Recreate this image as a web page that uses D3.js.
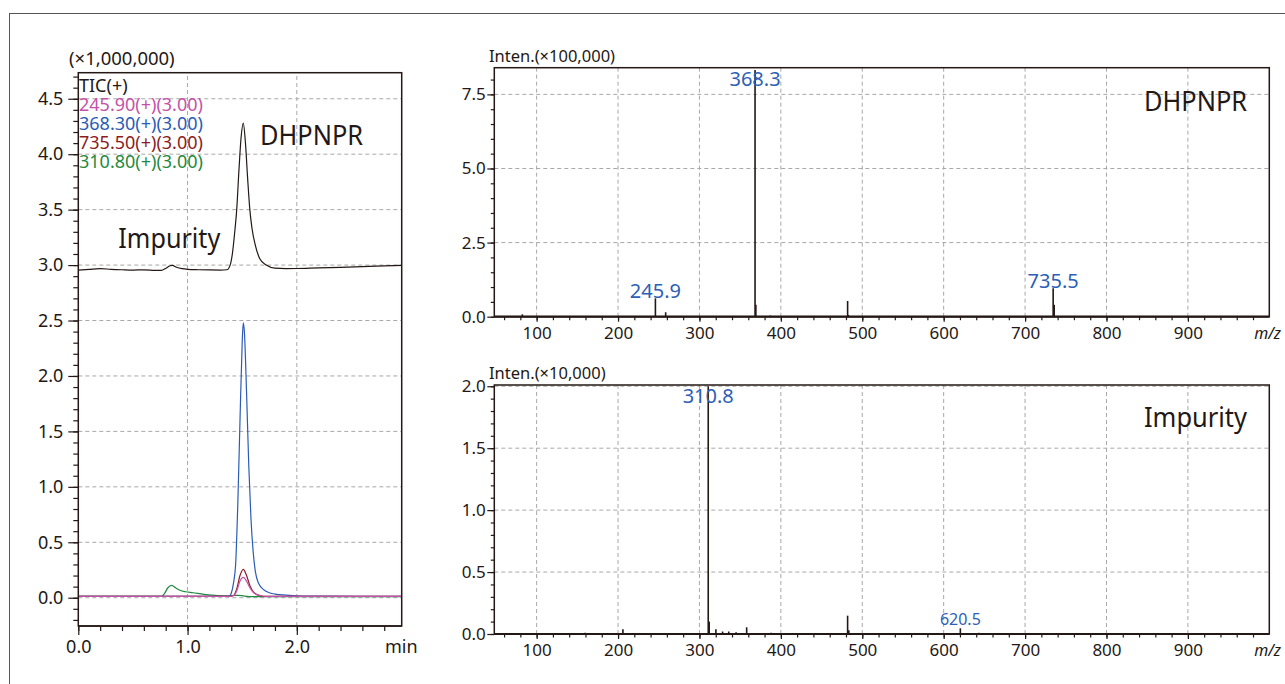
<!DOCTYPE html>
<html>
<head>
<meta charset="utf-8">
<script src="https://cdn.jsdelivr.net/npm/d3@7"></script>
<style>
  body { margin: 0; background: #fff; }
  text { font-family: "Noto Sans", sans-serif; fill: #231815; }
</style>
</head>
<body>
<svg id="chart" width="1285" height="684"></svg>
<script>
"use strict";

// chromatogram traces: [time (min), intensity (x1,000,000)]
const ticTrace = [
  [0, 2.955], [0.1, 2.962], [0.2, 2.968], [0.3, 2.962], [0.4, 2.958], [0.5, 2.955],
  [0.6, 2.957], [0.7, 2.953], [0.76, 2.952], [0.8, 2.97], [0.84, 2.994], [0.86, 2.998],
  [0.9, 2.98], [0.95, 2.968], [1.0, 2.962], [1.1, 2.958], [1.2, 2.956], [1.3, 2.955],
  [1.36, 2.958], [1.39, 3.0], [1.41, 3.1], [1.43, 3.28], [1.45, 3.5], [1.47, 3.85],
  [1.49, 4.15], [1.51, 4.28], [1.53, 4.1], [1.55, 3.78], [1.57, 3.5], [1.59, 3.33],
  [1.62, 3.18], [1.66, 3.06], [1.72, 3.0], [1.8, 2.972], [1.9, 2.968], [2.0, 2.969],
  [2.2, 2.975], [2.4, 2.98], [2.6, 2.986], [2.8, 2.993], [2.96, 2.998]
];
const ion368 = [
  [0, 0.012], [1.38, 0.012], [1.40, 0.04], [1.42, 0.13], [1.44, 0.3], [1.46, 0.85],
  [1.48, 1.6], [1.50, 2.3], [1.51, 2.48], [1.52, 2.4], [1.54, 1.85], [1.56, 1.2],
  [1.58, 0.72], [1.60, 0.42], [1.62, 0.24], [1.65, 0.13], [1.7, 0.07], [1.75, 0.045],
  [1.8, 0.033], [1.9, 0.024], [2.0, 0.018], [2.3, 0.014], [2.96, 0.012]
];
const ion735 = [
  [0, 0.012], [1.38, 0.012], [1.42, 0.02], [1.45, 0.08], [1.48, 0.2], [1.51, 0.256],
  [1.54, 0.2], [1.57, 0.11], [1.60, 0.055], [1.63, 0.03], [1.67, 0.018], [1.72, 0.013],
  [2.96, 0.012]
];
const ion245 = [
  [0, 0.012], [1.38, 0.012], [1.42, 0.018], [1.45, 0.06], [1.48, 0.15], [1.51, 0.184],
  [1.54, 0.15], [1.57, 0.09], [1.60, 0.05], [1.63, 0.03], [1.67, 0.018], [1.72, 0.013],
  [2.96, 0.012]
];
const ion310 = [
  [0, 0.012], [0.76, 0.012], [0.79, 0.04], [0.82, 0.09], [0.855, 0.112], [0.89, 0.09],
  [0.93, 0.068], [0.98, 0.054], [1.05, 0.045], [1.15, 0.03], [1.25, 0.022], [1.35, 0.018],
  [1.42, 0.02], [1.46, 0.022], [1.52, 0.015], [1.6, 0.01], [1.7, 0.01], [2.96, 0.01]
];

const legendLabels = ["TIC(+)", "245.90(+)(3.00)", "368.30(+)(3.00)", "735.50(+)(3.00)", "310.80(+)(3.00)"];
const legendColors = ["#231815", "#c452a8", "#2a5cb6", "#8c1c22", "#1f8a40"];

// mass spectra: m/z and intensity
const dhpMz  = [82.4, 245.9, 258.5, 368.3, 369.3, 387, 482, 483, 620, 734.5, 735.8];
const dhpInt = [0.08, 0.62, 0.15, 8.32, 0.4, 0.04, 0.53, 0.06, 0.02, 0.96, 0.4];   // x100,000
const impMz  = [120, 153, 159.6, 206, 310.8, 312, 320.2, 328.4, 336, 345, 358, 388, 482, 483.5, 573.6, 620.5, 643];
const impInt = [0.008, 0.008, 0.01, 0.038, 2.0, 0.1, 0.038, 0.02, 0.02, 0.015, 0.054, 0.01, 0.148, 0.03, 0.008, 0.046, 0.01]; // x10,000

const dhpLabels = [["368.3", 368.3, 8.32], ["245.9", 245.9, 0.62], ["735.5", 734.5, 0.96]];
const impLabels = [["310.8", 310.8, 2.0], ["620.5", 620.5, 0.046]];

const mzTicks = [100, 200, 300, 400, 500, 600, 700, 800, 900];

const svg = d3.select("#chart");
const ink = "#231815";

// outer frame
svg.append("rect")
  .attr("x", 9.5).attr("y", 13.5)
  .attr("width", 1300).attr("height", 700)
  .attr("fill", "none").attr("stroke", "#555").attr("stroke-width", 1);

function gridLines(g, x, y, xs, ys) {
  g.selectAll(null).data(xs).enter().append("line")
    .attr("x1", d => x(d)).attr("x2", d => x(d))
    .attr("y1", y.range()[0]).attr("y2", y.range()[1])
    .attr("stroke", "#a8a8a8").attr("stroke-dasharray", "4,3");
  g.selectAll(null).data(ys).enter().append("line")
    .attr("y1", d => y(d)).attr("y2", d => y(d))
    .attr("x1", x.range()[0]).attr("x2", x.range()[1])
    .attr("stroke", "#a8a8a8").attr("stroke-dasharray", "4,3");
}

function styleAxis(sel, size) {
  sel.select(".domain").remove();
  sel.selectAll(".tick line").attr("stroke", ink).attr("stroke-width", 1.2);
  sel.selectAll("text").style("font-size", size + "px").attr("fill", ink);
}

function frame(x, y, bw) {
  svg.append("rect")
    .attr("x", x.range()[0]).attr("y", y.range()[1])
    .attr("width", x.range()[1] - x.range()[0])
    .attr("height", y.range()[0] - y.range()[1])
    .attr("fill", "none").attr("stroke", ink).attr("stroke-width", 1.5);
  svg.append("line")
    .attr("x1", x.range()[0]).attr("x2", x.range()[1])
    .attr("y1", y.range()[0]).attr("y2", y.range()[0])
    .attr("stroke", ink).attr("stroke-width", bw);
}

// ---------- chromatogram ----------
const xL = d3.scaleLinear().domain([0, 2.96]).range([78.3, 401.7]);
const yL = d3.scaleLinear().domain([-0.255, 4.735]).range([626, 72.7]);

gridLines(svg.append("g"), xL, yL, [1, 2], d3.range(0, 4.51, 0.5));

svg.append("clipPath").attr("id", "clipL").append("rect")
  .attr("x", 78.3).attr("y", 72.7).attr("width", 401.7 - 78.3).attr("height", 626 - 72.7);

const line = d3.line().x(d => xL(d[0])).y(d => yL(d[1])).curve(d3.curveMonotoneX);
const traces = [[ticTrace, legendColors[0]], [ion310, legendColors[4]], [ion368, legendColors[2]],
                [ion735, legendColors[3]], [ion245, legendColors[1]]];
const gL = svg.append("g").attr("clip-path", "url(#clipL)");
traces.forEach(t => {
  gL.append("path").datum(t[0]).attr("d", line)
    .attr("fill", "none").attr("stroke", t[1]).attr("stroke-width", 1.2);
});

frame(xL, yL, 1.5);

svg.append("g").attr("transform", "translate(78.3,0)")
  .call(d3.axisLeft(yL).tickValues(d3.range(-0.2, 4.71, 0.1)).tickSize(5).tickFormat(""))
  .call(s => styleAxis(s, 18));
svg.append("g").attr("transform", "translate(78.3,0)")
  .call(d3.axisLeft(yL).tickValues(d3.range(0, 4.51, 0.5)).tickSize(10).tickPadding(5).tickFormat(d3.format(".1f")))
  .call(s => styleAxis(s, 18));
svg.append("g").attr("transform", "translate(0,626)")
  .call(d3.axisBottom(xL).tickValues(d3.range(0, 2.95, 0.2)).tickSize(5).tickFormat(""))
  .call(s => styleAxis(s, 18));
svg.append("g").attr("transform", "translate(0,626)")
  .call(d3.axisBottom(xL).tickValues([0, 1, 2]).tickSize(9).tickPadding(5).tickFormat(d3.format(".1f")))
  .call(s => styleAxis(s, 18));

svg.append("text").attr("x", 385).attr("y", 653).style("font-size", "18px").text("min");
svg.append("text").attr("x", 69).attr("y", 65).style("font-size", "18.5px").text("(×1,000,000)");

legendLabels.forEach((t, i) => {
  svg.append("text").attr("x", 79).attr("y", 92 + i * 19.1)
    .style("font-size", "18px").style("fill", legendColors[i]).text(t);
});

svg.append("text").attr("x", 260).attr("y", 145).style("font-size", "27px")
  .attr("textLength", 103).attr("lengthAdjust", "spacingAndGlyphs").text("DHPNPR");
svg.append("text").attr("x", 118.3).attr("y", 248.3).style("font-size", "27px")
  .attr("textLength", 102).attr("lengthAdjust", "spacingAndGlyphs").text("Impurity");

// ---------- mass spectra ----------
function spectrum(top, bottom, yMax, yMajor, yMinor, mz, inten, unitLabel, labels, name, nameY, smallLast) {
  const x = d3.scaleLinear().domain([48, 1000]).range([494.3, 1269.3]);
  const y = d3.scaleLinear().domain([0, yMax]).range([bottom, top]);

  gridLines(svg.append("g"), x, y, mzTicks, yMajor.filter(d => d > 0));

  svg.append("g").selectAll(null).data(mz).enter().append("line")
    .attr("x1", d => x(d)).attr("x2", d => x(d))
    .attr("y1", y(0)).attr("y2", (d, i) => y(inten[i]))
    .attr("stroke", ink).attr("stroke-width", 1.6);

  frame(x, y, 2.2);

  svg.append("g").attr("transform", "translate(494.3,0)")
    .call(d3.axisLeft(y).tickValues(yMinor).tickSize(3.5).tickFormat(""))
    .call(s => styleAxis(s, 17));
  svg.append("g").attr("transform", "translate(494.3,0)")
    .call(d3.axisLeft(y).tickValues(yMajor).tickSize(7).tickPadding(1.5).tickFormat(d3.format(".1f")))
    .call(s => styleAxis(s, 17));
  svg.append("g").attr("transform", `translate(0,${bottom})`)
    .call(d3.axisBottom(x).tickValues(d3.range(60, 1000, 20)).tickSize(3.5).tickFormat(""))
    .call(s => styleAxis(s, 17));
  svg.append("g").attr("transform", `translate(0,${bottom})`)
    .call(d3.axisBottom(x).tickValues(mzTicks).tickSize(5).tickPadding(5))
    .call(s => styleAxis(s, 17));

  svg.append("text").attr("x", 1281).attr("y", bottom + 22).attr("text-anchor", "end")
    .style("font-size", "16px").style("font-style", "italic").text("m/z");
  svg.append("text").attr("x", 489).attr("y", top - 6).style("font-size", "16.5px").text(unitLabel);

  labels.forEach((l, i) => {
    const small = smallLast && i === labels.length - 1;
    svg.append("text")
      .attr("x", x(l[1])).attr("y", Math.max(y(l[2]), top + 18) - (small ? 3 : 0))
      .attr("text-anchor", "middle")
      .style("font-size", small ? "16px" : "20px").style("fill", "#2d5fb5")
      .text(l[0]);
  });

  svg.append("text").attr("x", 1247).attr("y", nameY).attr("text-anchor", "end")
    .style("font-size", "27px").attr("textLength", 103).attr("lengthAdjust", "spacingAndGlyphs")
    .text(name);
}

spectrum(67.7, 316.7, 8.4, [0, 2.5, 5.0, 7.5], d3.range(0, 8.3, 0.5),
  dhpMz, dhpInt, "Inten.(×100,000)", dhpLabels, "DHPNPR", 110.7, false);
spectrum(385, 634, 2.01, [0, 0.5, 1.0, 1.5, 2.0], d3.range(0, 2.01, 0.1),
  impMz, impInt, "Inten.(×10,000)", impLabels, "Impurity", 427.3, true);
</script>
</body>
</html>
